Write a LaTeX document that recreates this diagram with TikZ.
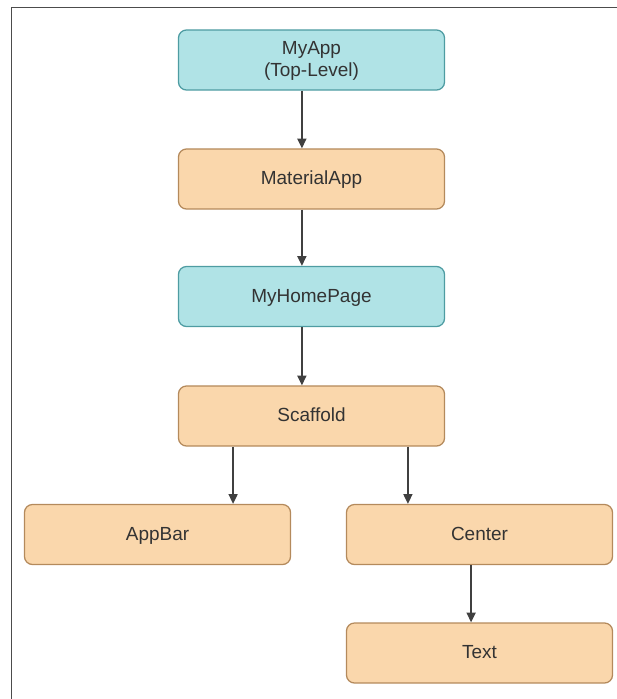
\documentclass[tikz,border=0pt]{standalone}
\usepackage{fontspec}
\setmainfont{Liberation Sans}
\usetikzlibrary{arrows.meta}
\usetikzlibrary{positioning}
\definecolor{cyanfill}{HTML}{B0E3E6}
\definecolor{cyanline}{HTML}{4E9CA2}
\definecolor{orangefill}{HTML}{FAD7AC}
\definecolor{orangeline}{HTML}{B48A5C}
\tikzset{
widget/.style={ % common box of the widget tree
rectangle,
rounded corners=0.2cm,
minimum width=6.65cm,
minimum height=1.5cm,
align=center,
text depth=0.25ex,
line width=0.9pt,
text=black!80,
font=\fontsize{13.5}{16}\selectfont},
stateful/.style={widget, draw=cyanline, fill=cyanfill},
stateless/.style={widget, draw=orangeline, fill=orangefill},
child/.style={ % parent to child arrow
draw=black!75,
line width=1pt,
-{Triangle[length=7pt,width=6.5pt]}}}

\begin{document}
\begin{tikzpicture}[x=0.025cm, y=-0.025cm]
	\useasboundingbox (0,0) rectangle (617,699);
	\draw[black!70, line width=1.2pt] (11.5,699) |- (617,7.5);
	\node[stateful] (myapp) at (311.5,60) {MyApp\\(Top-Level)};
	\node[stateless] (material) at (311.5,179) {MaterialApp};
	\node[stateful] (homepage) at (311.5,296.5) {MyHomePage};
	\node[stateless] (scaffold) at (311.5,416) {Scaffold};
	\node[stateless] (appbar) at (157.5,534.5) {AppBar};
	\node[stateless] (center) at (479.5,534.5) {Center};
	\node[stateless] (text) at (479.5,653) {Text};
	\draw[child] ([xshift=-0.24cm]myapp.south) -- ([xshift=-0.24cm]myapp.south |- material.north);
	\draw[child] ([xshift=-0.24cm]material.south) -- ([xshift=-0.24cm]material.south |- homepage.north);
	\draw[child] ([xshift=-0.24cm]homepage.south) -- ([xshift=-0.24cm]homepage.south |- scaffold.north);
	\draw[child] ([xshift=-1.96cm]scaffold.south) -- ([xshift=-1.96cm]scaffold.south |- appbar.north);
	\draw[child] ([xshift=2.41cm]scaffold.south) -- ([xshift=2.41cm]scaffold.south |- center.north);
	\draw[child] ([xshift=-0.21cm]center.south) -- ([xshift=-0.21cm]center.south |- text.north);
\end{tikzpicture}
\end{document}
